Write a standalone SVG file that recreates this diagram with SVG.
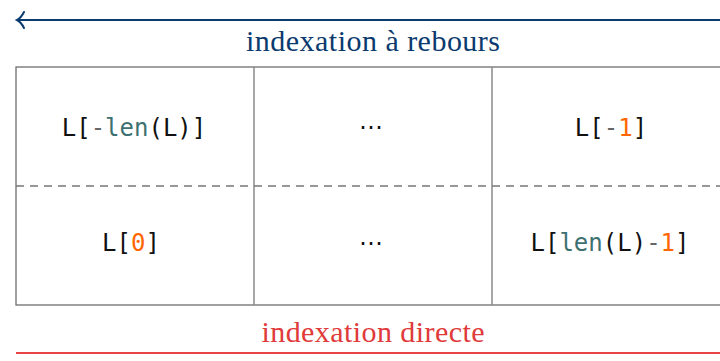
<svg xmlns="http://www.w3.org/2000/svg" width="720" height="361" viewBox="0 0 720 361">
  <style>
    .lbl { font-family: "Liberation Serif", "DejaVu Serif", serif; font-size: 30px; text-anchor: middle; }
    .code { font-family: "DejaVu Sans Mono", "Liberation Mono", monospace; font-size: 24px; text-anchor: middle; fill: #111; }
    .fn { fill: #3d7070; }
    .op { fill: #666; }
    .num { fill: #ff6600; }
    .dots { font-family: "DejaVu Sans", sans-serif; font-size: 24px; text-anchor: middle; fill: #111; }
    .grid { stroke: #6e6e6e; stroke-width: 1.3; fill: none; }
    .inner { stroke: #8a8a8a; stroke-width: 1.5; }
    .dash { stroke: #777; stroke-width: 1.3; stroke-dasharray: 8 6; }
  </style>

  <!-- table frame -->
  <g id="table">
    <rect class="grid" x="16" y="67" width="720" height="238"/>
    <line class="inner" x1="254" y1="67" x2="254" y2="305"/>
    <line class="inner" x1="492" y1="67" x2="492" y2="305"/>
    <line class="dash" x1="16" y1="186" x2="720" y2="186"/>
  </g>

  <!-- top row: negative indices -->
  <g id="cell-neg-first">
    <text class="code" x="134" y="136">L[<tspan class="op">-</tspan><tspan class="fn">len</tspan>(L)]</text>
  </g>
  <g id="cell-neg-mid">
    <text class="dots" x="371" y="135">⋯</text>
  </g>
  <g id="cell-neg-last">
    <text class="code" x="611" y="136">L[<tspan class="op">-</tspan><tspan class="num">1</tspan>]</text>
  </g>

  <!-- bottom row: direct indices -->
  <g id="cell-pos-first">
    <text class="code" x="131" y="251">L[<tspan class="num">0</tspan>]</text>
  </g>
  <g id="cell-pos-mid">
    <text class="dots" x="371" y="251">⋯</text>
  </g>
  <g id="cell-pos-last">
    <text class="code" x="610" y="251">L[<tspan class="fn">len</tspan>(L)<tspan class="op">-</tspan><tspan class="num">1</tspan>]</text>
  </g>

  <!-- direction arrows -->
  <g id="connectors">
    <line x1="18" y1="20" x2="720" y2="20" stroke="#0b3a6e" stroke-width="2"/>
    <path d="M24,12 Q21,18 17,20 Q21,22 24,28" fill="none" stroke="#0b3a6e" stroke-width="2" stroke-linecap="round"/>
    <line x1="16" y1="353" x2="720" y2="353" stroke="#e84545" stroke-width="2"/>
  </g>

  <g id="labels">
    <text class="lbl" x="373" y="51" fill="#0b3a6e" textLength="254" lengthAdjust="spacing">indexation à rebours</text>
    <text class="lbl" x="373" y="342" fill="#e03a3a" textLength="223" lengthAdjust="spacing">indexation directe</text>
  </g>
</svg>
